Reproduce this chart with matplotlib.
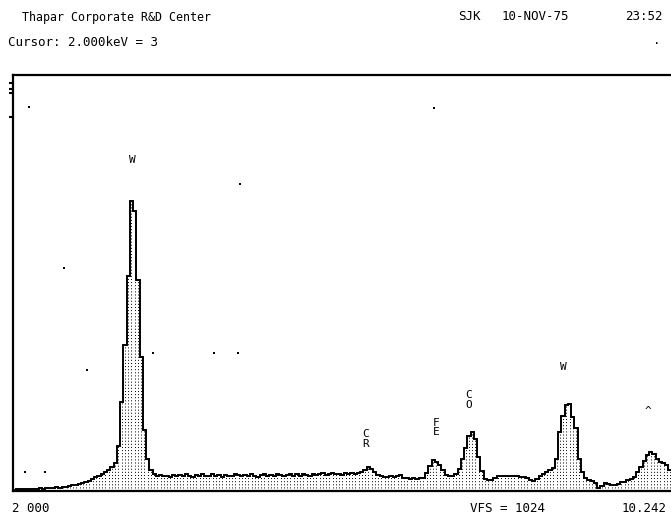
import numpy as np
import matplotlib
matplotlib.use('Agg')
import matplotlib.pyplot as plt

# EDS spectrum, 0.05 keV channels, counts
chan_width = 0.05
counts = [
    3, 4, 4, 5, 4, 6, 5, 6, 7, 6,
    7, 8, 7, 9, 8, 10, 11, 12, 14, 16,
    18, 20, 22, 25, 30, 34, 38, 42, 46, 52,
    60, 70, 110, 220, 360, 530, 715, 690, 520, 330,
    150, 80, 52, 42, 38, 40, 36, 38, 35, 40,
    37, 39, 36, 41, 38, 35, 40, 37, 42, 36,
    38, 41, 37, 39, 35, 40, 38, 36, 41, 39,
    37, 40, 36, 42, 38, 35, 39, 41, 37, 40,
    38, 42, 39, 36, 40, 43, 38, 41, 37, 42,
    40, 38, 43, 39, 41, 44, 40, 42, 45, 41,
    43, 40, 44, 42, 45, 43, 44, 47, 52, 58,
    55, 48, 40, 36, 35, 34, 36, 35, 38, 40,
    33, 31, 30, 32, 30, 31, 33, 45, 62, 76,
    72, 64, 52, 40, 37, 36, 42, 55, 80, 105,
    135, 145, 128, 84, 50, 30, 27, 27, 33, 37,
    37, 38, 36, 37, 36, 37, 34, 35, 32, 28,
    25, 30, 37, 42, 47, 52, 57, 80, 145, 185,
    212, 215, 182, 155, 80, 47, 32, 27, 24, 20,
    8, 12, 20, 18, 15, 15, 18, 22, 22, 27,
    30, 35, 48, 58, 74, 88, 96, 92, 80, 72,
    68, 64, 52, 42, 32,
]

# peak markers (energy keV, counts position, text)
peak_E = [1.84, 5.43, 6.52, 7.02, 8.48, 9.79]
peak_y = [814, 128, 157, 224, 305, 197]
peak_txt = ['W', 'C\nR', 'F\nE', 'C\nO', 'W', '^']

# stray screen dots
stray_E = [0.25, 0.78, 1.14, 2.16, 3.10, 3.46, 3.49, 6.49, 0.19, 0.50]
stray_y = [945, 549, 298, 340, 340, 340, 756, 943, 47, 47]

vfs = 1024
e_max = 10.242

edges = np.arange(len(counts) + 1) * chan_width
centers = edges[:-1] + chan_width / 2

mono = 'DejaVu Sans Mono'
W, H = 671, 520
fig = plt.figure(figsize=(W / 100, H / 100), dpi=100)
ax = fig.add_axes([13 / W, 1 - 491 / H, 1 - 13 / W + 0.01, (491 - 75) / H])

ax.vlines(centers, 0, counts, colors='black', linewidth=0.7,
          linestyles=(0, (1, 2.2)))
ax.stairs(counts, edges, color='black', linewidth=1.4)

for e, y, t in zip(peak_E, peak_y, peak_txt):
    ax.text(e, y, t, family=mono, fontsize=8, ha='center', va='center',
            linespacing=0.9)

ax.scatter(stray_E, stray_y, s=1.5, color='black', marker='s', linewidths=0)

ax.set_xlim(0, e_max)
ax.set_ylim(0, vfs)
ax.set_xticks([])
ax.set_yticks([1004, 989, 979, 920])
ax.tick_params(axis='y', direction='out', length=3, width=1.5, labelleft=False)
for s in ['left', 'top', 'bottom']:
    ax.spines[s].set_linewidth(1.6)
ax.spines['right'].set_visible(False)

def ftext(x, y, s, ha='left', size=9):
    fig.text(x / W, 1 - y / H, s, family=mono, fontsize=size, ha=ha, va='center')

ftext(22, 17, 'Thapar Corporate R&D Center', size=8.4)
ftext(458, 17, 'SJK')
ftext(502, 17, '10-NOV-75')
ftext(663, 17, '23:52', ha='right')
ftext(8, 43, 'Cursor: 2.000keV = 3')
ftext(657, 41, '.', ha='center')
ftext(12, 509, '2 000')
ftext(470, 509, 'VFS = 1024')
ftext(667, 509, '10.242', ha='right')

fig.savefig('out.png', dpi=100)
